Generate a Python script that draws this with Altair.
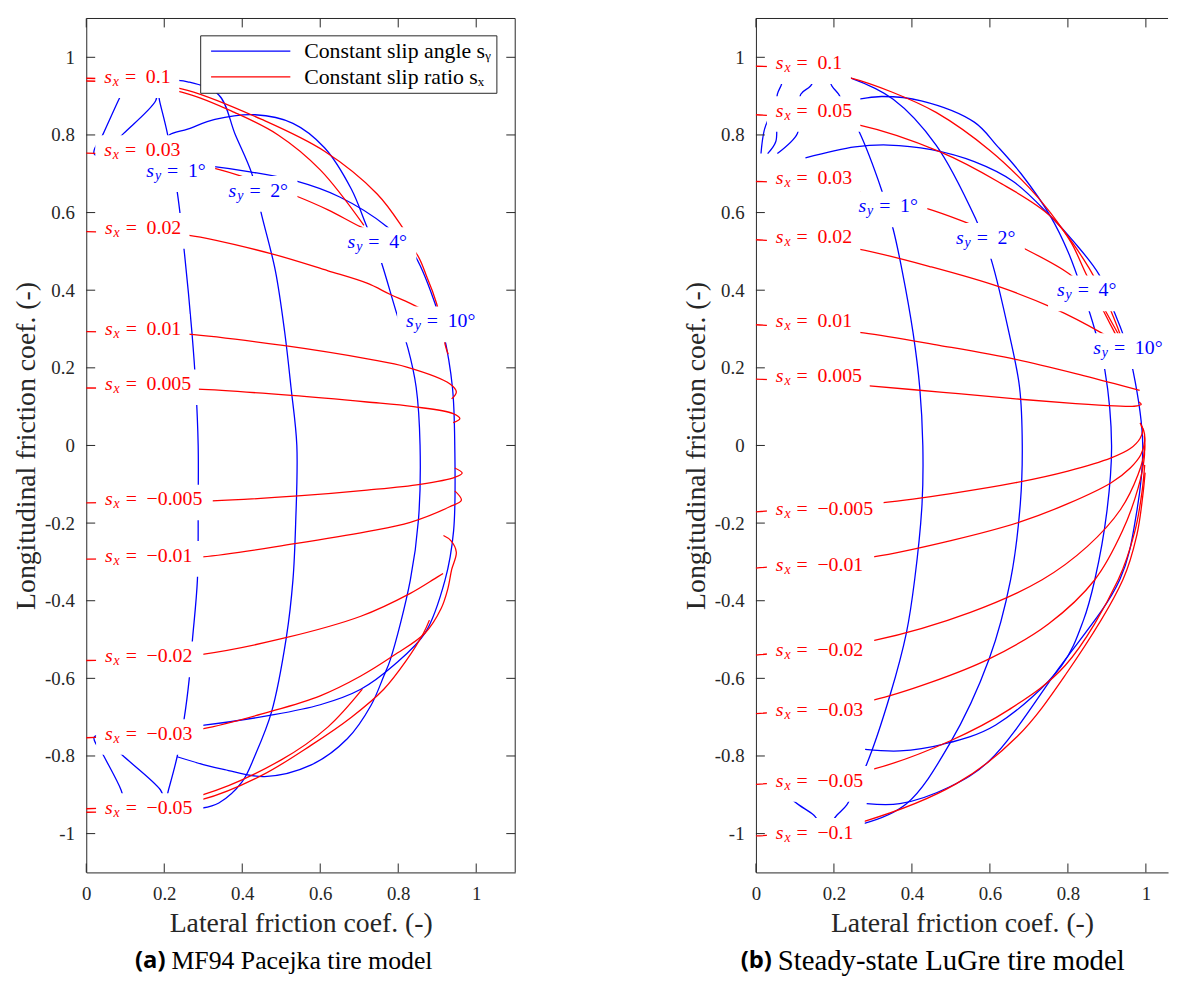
import altair as alt
import pandas as pd

# ---------------- values ----------------
X_TICKS = [0, 0.2, 0.4, 0.6, 0.8, 1]
Y_TICKS = [-1, -0.8, -0.6, -0.4, -0.2, 0, 0.2, 0.4, 0.6, 0.8, 1]

# (a) MF94 Pacejka: constant slip angle curves (lateral, longitudinal)
A_SY1 = [(0.051, -0.76), (0.097, -0.802), (0.19, -0.887), (0.203, -0.915), (0.211, -0.887),
         (0.233, -0.802), (0.251, -0.704), (0.264, -0.602), (0.272, -0.504), (0.285, -0.347),
         (0.287, -0.15), (0.287, 0.0), (0.281, 0.15), (0.271, 0.291), (0.251, 0.503),
         (0.234, 0.648), (0.208, 0.804), (0.188, 0.888), (0.183, 0.915), (0.178, 0.888),
         (0.096, 0.804), (0.05, 0.76)]
A_SY2 = [(0.22, -0.936), (0.298, -0.934), (0.34, -0.921), (0.4, -0.866), (0.433, -0.798),
         (0.475, -0.687), (0.513, -0.495), (0.53, -0.347), (0.537, -0.2), (0.54, 0.0),
         (0.525, 0.15), (0.509, 0.291), (0.485, 0.45), (0.45, 0.593), (0.425, 0.699),
         (0.382, 0.801), (0.34, 0.903), (0.26, 0.937), (0.2, 0.942)]
A_SY4 = [(0.233, -0.802), (0.3, -0.822), (0.355, -0.835), (0.457, -0.853), (0.577, -0.823),
         (0.67, -0.755), (0.73, -0.67), (0.763, -0.594), (0.78, -0.551), (0.831, -0.347),
         (0.852, -0.19), (0.856, 0.0), (0.846, 0.15), (0.825, 0.25), (0.797, 0.337),
         (0.759, 0.465), (0.74, 0.52), (0.72, 0.563), (0.68, 0.66), (0.611, 0.767),
         (0.53, 0.83), (0.433, 0.852), (0.33, 0.84), (0.26, 0.815), (0.213, 0.8), (0.205, 0.785)]
A_SY10 = [(0.1, -0.925), (0.089, -0.887), (0.046, -0.802), (0.02, -0.752), (0.06, -0.742),
          (0.15, -0.733), (0.298, -0.721), (0.467, -0.696), (0.6, -0.668), (0.704, -0.628),
          (0.79, -0.565), (0.869, -0.483), (0.92, -0.347), (0.942, -0.22), (0.945, 0.0),
          (0.939, 0.15), (0.916, 0.29), (0.894, 0.367), (0.839, 0.495), (0.772, 0.563),
          (0.65, 0.64), (0.535, 0.682), (0.42, 0.705), (0.323, 0.719), (0.2, 0.73),
          (0.1, 0.742), (0.02, 0.752), (0.044, 0.804), (0.082, 0.888), (0.1, 0.925)]

# (a) constant slip ratio curves
A_SX_P1 = [(0.0, 0.946), (0.1, 0.942), (0.26, 0.915), (0.45, 0.84), (0.611, 0.758),
           (0.746, 0.648), (0.81, 0.563), (0.83, 0.53)]
A_SX_P05 = [(0.0, 0.939), (0.1, 0.934), (0.26, 0.906), (0.38, 0.858), (0.492, 0.8),
            (0.6, 0.71), (0.712, 0.567)]
A_SX_P03 = [(0.0, 0.753), (0.15, 0.745), (0.322, 0.716), (0.43, 0.683), (0.535, 0.644),
            (0.62, 0.607), (0.704, 0.563), (0.78, 0.53), (0.84, 0.503), (0.875, 0.43),
            (0.898, 0.367), (0.915, 0.3), (0.92, 0.261), (0.928, 0.235)]
A_SX_P02 = [(0.0, 0.551), (0.15, 0.548), (0.26, 0.542), (0.471, 0.495), (0.62, 0.45),
            (0.72, 0.418), (0.78, 0.389), (0.831, 0.366), (0.89, 0.335), (0.93, 0.31),
            (0.94, 0.29), (0.925, 0.28)]
A_SX_P01 = [(0.0, 0.293), (0.15, 0.291), (0.26, 0.287), (0.509, 0.257), (0.721, 0.223),
            (0.822, 0.202), (0.932, 0.159), (0.949, 0.138), (0.937, 0.12)]
A_SX_P005 = [(0.0, 0.148), (0.15, 0.147), (0.285, 0.145), (0.526, 0.129), (0.72, 0.112),
             (0.839, 0.1), (0.941, 0.082), (0.958, 0.069), (0.941, 0.059)]
A_SX_M005 = [(0.0, -0.148), (0.15, -0.146), (0.323, -0.143), (0.543, -0.13), (0.72, -0.115),
             (0.856, -0.1), (0.945, -0.082), (0.964, -0.071), (0.945, -0.058)]
A_SX_M01 = [(0.0, -0.293), (0.15, -0.291), (0.298, -0.287), (0.535, -0.253), (0.72, -0.222),
            (0.831, -0.198), (0.932, -0.158), (0.962, -0.141), (0.945, -0.117)]
A_SX_M02 = [(0.0, -0.554), (0.15, -0.55), (0.298, -0.538), (0.509, -0.496), (0.704, -0.44),
            (0.831, -0.381), (0.894, -0.343), (0.915, -0.33)]
A_SX_M03 = [(0.0, -0.753), (0.15, -0.745), (0.298, -0.73), (0.467, -0.687), (0.6, -0.645),
            (0.704, -0.594), (0.79, -0.54), (0.869, -0.483), (0.91, -0.42), (0.927, -0.37),
            (0.937, -0.32), (0.949, -0.275), (0.935, -0.245), (0.916, -0.232)]
A_SX_M05 = [(0.0, -0.936), (0.1, -0.93), (0.298, -0.9), (0.5, -0.81), (0.62, -0.725),
            (0.708, -0.628)]
A_SX_M1 = [(0.0, -0.945), (0.1, -0.94), (0.298, -0.912), (0.45, -0.85), (0.577, -0.772),
           (0.68, -0.7), (0.763, -0.628), (0.82, -0.555), (0.865, -0.483), (0.88, -0.45)]

# (a) in-plot labels: (value, left edge x, centre y)
A_SX_LABELS = [("0.1", 0.046, 0.941), ("0.03", 0.046, 0.753), ("0.02", 0.048, 0.553),
               ("0.01", 0.048, 0.293), ("0.005", 0.048, 0.15), ("\u22120.005", 0.048, -0.147),
               ("\u22120.01", 0.048, -0.292), ("\u22120.02", 0.048, -0.551),
               ("\u22120.03", 0.048, -0.751), ("\u22120.05", 0.048, -0.942)]
A_SY_LABELS = [("1\u00b0", 0.154, 0.699), ("2\u00b0", 0.365, 0.648), ("4\u00b0", 0.67, 0.516),
               ("10\u00b0", 0.82, 0.312)]

# (b) Steady-state LuGre: constant slip angle curves
B_SY1 = [(0.05, -0.88), (0.11, -0.926), (0.148, -0.952), (0.178, -0.985), (0.208, -0.952),
         (0.233, -0.926), (0.26, -0.87), (0.284, -0.821), (0.344, -0.643), (0.386, -0.482),
         (0.407, -0.346), (0.426, -0.15), (0.428, 0.0), (0.42, 0.15), (0.403, 0.29),
         (0.375, 0.45), (0.352, 0.557), (0.322, 0.659), (0.263, 0.812), (0.225, 0.88),
         (0.212, 0.905), (0.195, 0.926), (0.17, 0.975), (0.14, 0.926), (0.115, 0.905),
         (0.11, 0.85), (0.106, 0.803), (0.055, 0.752)]
B_SY2 = [(0.2, -0.982), (0.276, -0.974), (0.386, -0.923), (0.496, -0.77), (0.598, -0.55),
         (0.653, -0.346), (0.678, -0.15), (0.683, 0.0), (0.676, 0.15), (0.649, 0.29),
         (0.604, 0.477), (0.585, 0.53), (0.564, 0.583), (0.462, 0.774), (0.352, 0.892),
         (0.242, 0.947), (0.15, 0.97), (0.08, 0.96), (0.064, 0.926), (0.055, 0.905),
         (0.052, 0.85), (0.051, 0.783), (0.03, 0.752)]
B_SY4 = [(0.28, -0.783), (0.369, -0.787), (0.479, -0.77), (0.615, -0.72), (0.784, -0.567),
         (0.84, -0.45), (0.869, -0.346), (0.9, -0.17), (0.912, 0.0), (0.895, 0.193),
         (0.869, 0.298), (0.84, 0.39), (0.8, 0.5), (0.755, 0.591), (0.68, 0.7), (0.62, 0.77),
         (0.56, 0.833), (0.424, 0.888), (0.322, 0.899), (0.263, 0.892), (0.15, 0.88),
         (0.05, 0.862), (0.025, 0.824), (0.013, 0.752)]
B_SY10 = [(0.284, -0.923), (0.369, -0.923), (0.496, -0.88), (0.598, -0.813), (0.776, -0.575),
          (0.933, -0.346), (0.975, -0.18), (0.992, 0.0), (0.967, 0.193), (0.94, 0.29),
          (0.92, 0.341), (0.88, 0.44), (0.815, 0.525), (0.755, 0.591), (0.66, 0.68),
          (0.56, 0.731), (0.45, 0.762), (0.339, 0.774), (0.254, 0.769), (0.127, 0.741)]

# (b) constant slip ratio curves
B_SX_P1 = [(0.0, 0.977), (0.1, 0.972), (0.242, 0.947), (0.35, 0.91), (0.462, 0.858),
           (0.6, 0.76), (0.7, 0.665), (0.755, 0.6), (0.81, 0.52), (0.846, 0.443),
           (0.9, 0.34), (0.95, 0.25)]
B_SX_P05 = [(0.0, 0.852), (0.1, 0.845), (0.263, 0.826), (0.471, 0.757), (0.62, 0.68),
            (0.755, 0.591), (0.84, 0.48), (0.9, 0.37), (0.94, 0.27)]
B_SX_P03 = [(0.0, 0.68), (0.15, 0.672), (0.3, 0.645), (0.433, 0.612), (0.53, 0.578),
            (0.61, 0.545), (0.683, 0.51), (0.802, 0.443), (0.87, 0.38), (0.91, 0.31),
            (0.935, 0.26)]
B_SX_P02 = [(0.0, 0.53), (0.15, 0.52), (0.263, 0.506), (0.45, 0.46), (0.623, 0.409),
            (0.76, 0.355), (0.886, 0.29), (0.93, 0.262)]
B_SX_P01 = [(0.0, 0.311), (0.15, 0.302), (0.276, 0.29), (0.47, 0.258), (0.666, 0.222),
            (0.84, 0.18), (0.984, 0.142)]
B_SX_P005 = [(0.0, 0.171), (0.15, 0.165), (0.284, 0.154), (0.48, 0.137), (0.666, 0.12),
             (0.82, 0.108), (0.92, 0.102), (0.97, 0.101), (0.988, 0.106), (0.982, 0.112)]
B_SX_M005 = [(0.0, -0.171), (0.15, -0.16), (0.327, -0.147), (0.5, -0.124), (0.666, -0.096),
             (0.8, -0.066), (0.911, -0.032), (0.96, -0.008), (0.985, 0.018), (0.992, 0.042),
             (0.985, 0.058)]
B_SX_M01 = [(0.0, -0.316), (0.15, -0.303), (0.301, -0.287), (0.5, -0.245), (0.674, -0.198),
            (0.8, -0.15), (0.911, -0.096), (0.96, -0.058), (0.987, -0.024), (0.997, 0.012),
            (0.994, 0.04), (0.987, 0.052)]
B_SX_M02 = [(0.0, -0.54), (0.15, -0.525), (0.301, -0.503), (0.55, -0.43), (0.734, -0.346),
            (0.85, -0.26), (0.935, -0.165), (0.98, -0.075), (0.997, -0.01), (0.996, 0.025)]
B_SX_M03 = [(0.0, -0.691), (0.15, -0.678), (0.301, -0.656), (0.45, -0.61), (0.598, -0.55),
            (0.75, -0.46), (0.869, -0.346), (0.94, -0.22), (0.98, -0.11), (0.996, -0.03),
            (0.996, 0.0)]
B_SX_M05 = [(0.0, -0.873), (0.15, -0.86), (0.301, -0.834), (0.496, -0.762), (0.65, -0.68),
            (0.793, -0.567), (0.929, -0.346), (0.972, -0.22), (0.99, -0.12), (0.997, -0.05)]
B_SX_M1 = [(0.0, -1.006), (0.15, -0.995), (0.276, -0.969), (0.513, -0.872), (0.67, -0.75),
           (0.793, -0.592), (0.941, -0.346), (0.977, -0.23), (0.992, -0.13), (0.998, -0.07)]

B_SX_LABELS = [("0.1", 0.051, 0.977), ("0.05", 0.051, 0.854), ("0.03", 0.051, 0.68),
               ("0.02", 0.051, 0.53), ("0.01", 0.051, 0.314), ("0.005", 0.051, 0.171),
               ("\u22120.005", 0.051, -0.171), ("\u22120.01", 0.051, -0.315),
               ("\u22120.02", 0.051, -0.534), ("\u22120.03", 0.051, -0.69),
               ("\u22120.05", 0.051, -0.872), ("\u22120.1", 0.051, -1.006)]
B_SY_LABELS = [("1\u00b0", 0.263, 0.608), ("2\u00b0", 0.513, 0.527), ("4\u00b0", 0.772, 0.392),
               ("10\u00b0", 0.865, 0.243)]

# ---------------- styling / layout ----------------
W = 433
H = 862
W_B = 416
XMAX_A = 1.1
XMAX_B = 1.1 * W_B / W
PX = W / XMAX_A
PY = H / 2.2
TICK = 9
FONT = "Liberation Serif"
AXC = "#262626"
BLUE = "#0000ff"
RED = "#ff0000"
ANGLE = "Constant slip angle s\u1d67"
RATIO = "Constant slip ratio s\u2093"
XTITLE = "Lateral friction coef. (-)"
YTITLE = "Longitudinal friction coef. (-)"
YLABEL = "datum.value < 0 ? '-' + format(-datum.value, '~g') : format(datum.value, '~g')"


def curve_frame(items):
    rows = []
    for name, kind, pts in items:
        for i, (x, y) in enumerate(pts):
            rows.append(dict(curve=name, kind=kind, i=i, x=x, y=y))
    return pd.DataFrame(rows)


def text_width(val):
    w = 0.0
    for ch in val:
        if ch.isdigit():
            w += 9.5
        elif ch == ".":
            w += 4.8
        elif ch == "\u2212":
            w += 14
        else:
            w += 8
    return w


def label_frame(sx, sy):
    rows = []
    for val, xl, y in sx:
        rows.append(dict(sub="x", val=val, xl=xl, y=y, col=RED))
    for val, xl, y in sy:
        rows.append(dict(sub="y", val=val, xl=xl, y=y, col=BLUE))
    df = pd.DataFrame(rows)
    w = df["val"].map(text_width)
    df["bx1"] = df["xl"] - 9 / PX
    df["bx2"] = df["xl"] + (42 + w + 10) / PX
    df["by1"] = df["y"] - 18 / PY
    df["by2"] = df["y"] + 18 / PY
    df["s"] = "s"
    df["eq"] = "="
    return df


def panel(curves, labels, xmax, width, legend, tag, caption, tag_x, cap_x, cap_size, right_edge):
    xs = alt.Scale(domain=[0, xmax], nice=False, zero=False)
    ys = alt.Scale(domain=[-1.1, 1.1], nice=False, zero=False)
    x_axis = alt.Axis(values=X_TICKS, format="~g", labelFlush=False)
    y_axis = alt.Axis(values=Y_TICKS, labelExpr=YLABEL)

    def X(f):
        return alt.X(f, type="quantitative", scale=xs, title=XTITLE, axis=x_axis)

    def Y(f):
        return alt.Y(f, type="quantitative", scale=ys, title=YTITLE, axis=y_axis)

    lines = alt.Chart(curves).mark_line(interpolate="catmull-rom", strokeWidth=1.3).encode(
        x=X("x"), y=Y("y"),
        color=alt.Color("kind:N", scale=alt.Scale(domain=[ANGLE, RATIO], range=[BLUE, RED]),
                        legend=legend),
        detail="curve:N",
        order="i:Q",
    )
    boxes = alt.Chart(labels).mark_rect(color="white").encode(
        x=X("bx1"), x2="bx2:Q", y=Y("by1"), y2="by2:Q",
    )
    enc = dict(x=X("xl"), y=Y("y"), color=alt.Color("col:N", scale=None))
    t_s = alt.Chart(labels).mark_text(font=FONT, fontSize=20, fontStyle="italic", align="left",
                                      baseline="middle", dy=-3).encode(text="s:N", **enc)
    t_sub = alt.Chart(labels).mark_text(font=FONT, fontSize=14, fontStyle="italic", align="left",
                                        baseline="middle", dx=8.7, dy=2).encode(text="sub:N", **enc)
    t_eq = alt.Chart(labels).mark_text(font=FONT, fontSize=20, align="left", baseline="middle",
                                       dx=21, dy=-3).encode(text="eq:N", **enc)
    t_val = alt.Chart(labels).mark_text(font=FONT, fontSize=20, align="left", baseline="middle",
                                        dx=42, dy=-3).encode(text="val:N", **enc)

    yt = pd.DataFrame({"v": Y_TICKS})
    xt = pd.DataFrame({"v": X_TICKS})
    tick_l = alt.Chart(yt).mark_rule(color=AXC, strokeWidth=1).encode(
        y=Y("v"), x=alt.value(0), x2=alt.value(TICK))
    tick_b = alt.Chart(xt).mark_rule(color=AXC, strokeWidth=1).encode(
        x=X("v"), y=alt.value(H - TICK), y2=alt.value(H))
    tick_t = alt.Chart(xt).mark_rule(color=AXC, strokeWidth=1).encode(
        x=X("v"), y=alt.value(0), y2=alt.value(TICK))
    top = alt.Chart(pd.DataFrame({"v": [0]})).mark_rule(color=AXC, strokeWidth=1).encode(
        x=alt.value(0), x2=alt.value(width), y=alt.value(0))
    layers = [lines, boxes, t_s, t_sub, t_eq, t_val, tick_l, tick_b, tick_t, top]
    if right_edge:
        tick_r = alt.Chart(yt).mark_rule(color=AXC, strokeWidth=1).encode(
            y=Y("v"), x=alt.value(width - TICK), x2=alt.value(width))
        edge = alt.Chart(pd.DataFrame({"v": [0]})).mark_rule(color=AXC, strokeWidth=1).encode(
            x=alt.value(width), y=alt.value(0), y2=alt.value(H))
        layers += [tick_r, edge]

    cap = pd.DataFrame({"tag": [tag], "cap": [caption]})
    c_tag = alt.Chart(cap).mark_text(font="Open Sans", fontWeight="bold", fontSize=24,
                                     align="right", baseline="middle", color="black").encode(
        text="tag:N", x=alt.value(tag_x), y=alt.value(H + 89))
    c_cap = alt.Chart(cap).mark_text(font=FONT, fontSize=cap_size, align="left",
                                     baseline="middle", color="black").encode(
        text="cap:N", x=alt.value(cap_x), y=alt.value(H + 89))
    layers += [c_tag, c_cap]
    return alt.layer(*layers).properties(width=width, height=H)


curves_a = curve_frame([
    ("sy1", ANGLE, A_SY1), ("sy2", ANGLE, A_SY2), ("sy4", ANGLE, A_SY4), ("sy10", ANGLE, A_SY10),
    ("p1", RATIO, A_SX_P1), ("p05", RATIO, A_SX_P05), ("p03", RATIO, A_SX_P03),
    ("p02", RATIO, A_SX_P02), ("p01", RATIO, A_SX_P01), ("p005", RATIO, A_SX_P005),
    ("m005", RATIO, A_SX_M005), ("m01", RATIO, A_SX_M01), ("m02", RATIO, A_SX_M02),
    ("m03", RATIO, A_SX_M03), ("m05", RATIO, A_SX_M05), ("m1", RATIO, A_SX_M1),
])
curves_b = curve_frame([
    ("sy1", ANGLE, B_SY1), ("sy2", ANGLE, B_SY2), ("sy4", ANGLE, B_SY4), ("sy10", ANGLE, B_SY10),
    ("p1", RATIO, B_SX_P1), ("p05", RATIO, B_SX_P05), ("p03", RATIO, B_SX_P03),
    ("p02", RATIO, B_SX_P02), ("p01", RATIO, B_SX_P01), ("p005", RATIO, B_SX_P005),
    ("m005", RATIO, B_SX_M005), ("m01", RATIO, B_SX_M01), ("m02", RATIO, B_SX_M02),
    ("m03", RATIO, B_SX_M03), ("m05", RATIO, B_SX_M05), ("m1", RATIO, B_SX_M1),
])

legend_a = alt.Legend(
    title=None, orient="none", legendX=115, legendY=17, direction="vertical",
    fillColor="white", strokeColor=AXC, padding=5, cornerRadius=0,
    symbolType="M-1,0L15,0", symbolSize=100, symbolStrokeWidth=1.3,
    labelFont=FONT, labelFontSize=22, labelColor="black", labelLimit=400,
    labelOffset=78, rowPadding=4,
)

left = panel(curves_a, label_frame(A_SX_LABELS, A_SY_LABELS), XMAX_A, W, legend_a,
             "(a)", "MF94 Pacejka tire model", 80, 86, 26, True)
right = panel(curves_b, label_frame(B_SX_LABELS, B_SY_LABELS), XMAX_B, W_B, None,
              "(b)", "Steady-state LuGre tire model", 16, 22, 29, False)

chart = alt.hconcat(left, right, spacing=167).resolve_scale(
    x="independent", y="independent", color="independent"
).properties(
    padding={"left": 4, "top": 5, "right": 0, "bottom": 0}
).configure_view(stroke=None).configure_axis(
    grid=False, ticks=False, tickSize=0, domain=True, domainColor=AXC, domainWidth=1,
    labelFont=FONT, labelFontSize=19, labelColor=AXC, labelPadding=12,
    titleFont=FONT, titleFontSize=28, titleFontWeight="normal", titleColor=AXC,
).configure_axisX(titlePadding=7).configure_axisY(titlePadding=4)

chart.save("out.html", embed_options={"renderer": "svg", "actions": False})
